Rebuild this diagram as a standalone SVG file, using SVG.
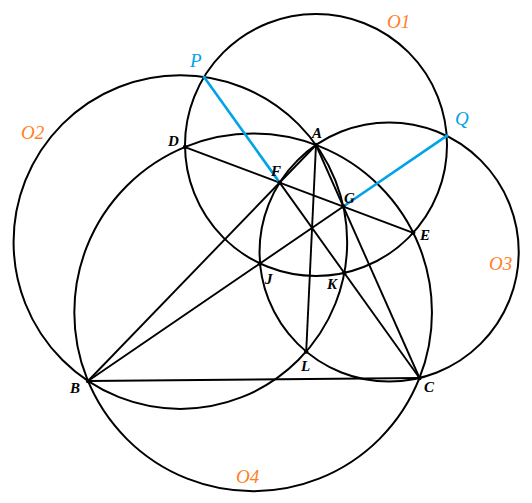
<svg xmlns="http://www.w3.org/2000/svg" width="532" height="503" viewBox="0 0 532 503">
<style>
.c{fill:none;stroke:#000;stroke-width:2}
.l{stroke:#000;stroke-width:1.9;fill:none}
.b{stroke:#00A2E8;stroke-width:2.6;fill:none}
.d{fill:#000}
.t{font-family:"Liberation Serif",serif;font-style:italic;font-weight:bold;font-size:15px;fill:#000}
.o{font-family:"Liberation Serif",serif;font-style:italic;font-size:19px;fill:#FF7F27}
.q{font-family:"Liberation Serif",serif;font-style:italic;font-size:19px;fill:#00A2E8}
</style>
<rect width="532" height="503" fill="#fff"/>
<g id="circles">
<g id="O1"><circle class="c" cx="316" cy="145" r="131"/><text class="o" x="387" y="28">O1</text></g>
<g id="O2"><circle class="c" cx="180.37" cy="242.1" r="166.8"/><text class="o" x="21" y="139">O2</text></g>
<g id="O3"><circle class="c" cx="389.13" cy="252" r="129.6"/><text class="o" x="489" y="270">O3</text></g>
<g id="O4"><circle class="c" cx="253.14" cy="312.41" r="178.82"/><text class="o" x="236" y="483">O4</text></g>
</g>
<g id="connectors">
<line class="l" x1="88" y1="381" x2="419.5" y2="378"/>
<line class="l" x1="316" y1="145" x2="88" y2="381"/>
<line class="l" x1="316" y1="145" x2="419.5" y2="378"/>
<line class="l" x1="316" y1="145" x2="306.2" y2="351.6"/>
<line class="l" x1="185" y1="147.05" x2="413.2" y2="232.8"/>
<line class="l" x1="419.5" y1="378" x2="279.66" y2="182.62"/>
<line class="l" x1="88" y1="381" x2="343.34" y2="206.54"/>
<line class="b" x1="279.66" y1="182.62" x2="204.05" y2="76.98"/>
<line class="b" x1="343.34" y1="206.54" x2="446.69" y2="135.93"/>
</g>
<g id="A"><circle class="d" cx="316" cy="145" r="2.2"/><text class="t" x="312" y="138">A</text></g>
<g id="B"><circle class="d" cx="88" cy="381" r="2.2"/><text class="t" x="70" y="393">B</text></g>
<g id="C"><circle class="d" cx="419.5" cy="378" r="2.2"/><text class="t" x="424" y="392">C</text></g>
<g id="D"><circle class="d" cx="185" cy="147.05" r="2.2"/><text class="t" x="168" y="146">D</text></g>
<g id="E"><circle class="d" cx="413.2" cy="232.8" r="2.2"/><text class="t" x="420" y="240">E</text></g>
<g id="F"><circle class="d" cx="279.66" cy="182.62" r="2.2"/><text class="t" x="271" y="176">F</text></g>
<g id="G"><circle class="d" cx="343.34" cy="206.54" r="2.2"/><text class="t" x="344" y="203">G</text></g>
<g id="J"><circle class="d" cx="260.05" cy="263.45" r="2.2"/><text class="t" x="265" y="284">J</text></g>
<g id="K"><circle class="d" cx="344.28" cy="272.91" r="2.2"/><text class="t" x="327" y="289">K</text></g>
<g id="L"><circle class="d" cx="306.2" cy="351.6" r="2.2"/><text class="t" x="301" y="371">L</text></g>
<g id="P"><circle cx="204.05" cy="76.98" r="1.6" fill="#00A2E8"/><text class="q" x="190" y="67">P</text></g>
<g id="Q"><circle cx="446.69" cy="135.93" r="1.8" fill="#00A2E8"/><text class="q" x="455" y="125">Q</text></g>
</svg>
